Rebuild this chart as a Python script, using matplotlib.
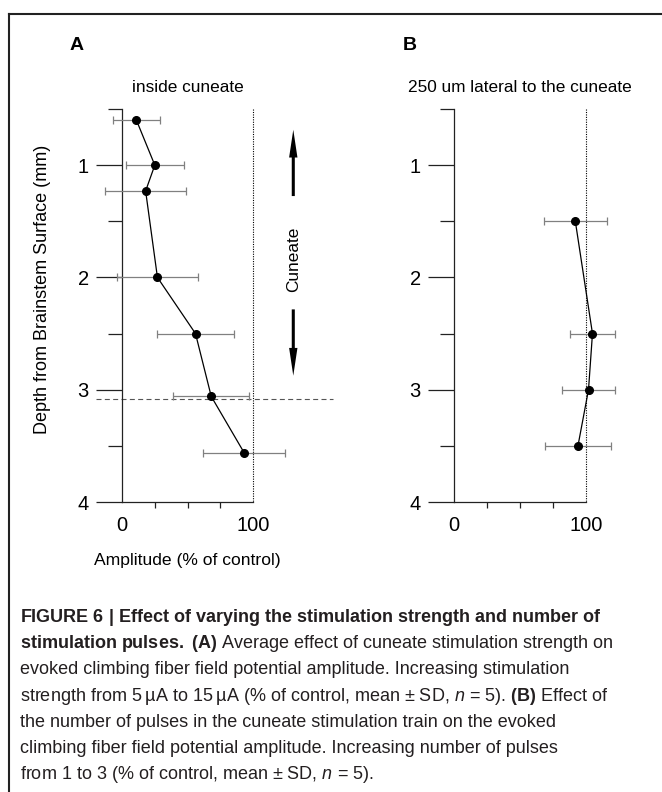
import numpy as np
import matplotlib
matplotlib.use('Agg')
import matplotlib.pyplot as plt
from matplotlib import font_manager as fm
from matplotlib.lines import Line2D
from matplotlib.patches import FancyArrowPatch

# depth (mm) vs amplitude (% of control), mean and SD
a_depth = [0.6, 1.0, 1.23, 2.0, 2.5, 3.06, 3.56]
a_amp   = [11, 25, 18, 27, 56, 68, 93]
a_sd    = [18, 22, 31, 31, 29, 29, 31]

b_depth = [1.5, 2.5, 3.0, 3.5]
b_amp   = [92, 105, 102, 94]
b_sd    = [24, 17, 20, 25]

cuneate_border = 3.08
yticks = [1, 2, 3, 4]
ymin_ticks = [0.5, 1.5, 2.5, 3.5]

caption = [
    r"$\mathbf{FIGURE\ 6\ |\ Effect\ of\ varying\ the\ stimulation\ strength\ and\ number\ of}$",
    r"$\mathbf{stimulation\ pulses.\ (A)}$ Average effect of cuneate stimulation strength on",
    "evoked climbing fiber field potential amplitude. Increasing stimulation",
    "strength from 5\u2009\u00b5A to 15\u2009\u00b5A (% of control, mean \u00b1 SD, $n$ = 5). $\\mathbf{(B)}$ Effect of",
    "the number of pulses in the cuneate stimulation train on the evoked",
    "climbing fiber field potential amplitude. Increasing number of pulses",
    "from 1 to 3 (% of control, mean \u00b1 SD, $n$ = 5).",
]

names = {f.name for f in fm.fontManager.ttflist}
narrow = 'Liberation Sans Narrow' if 'Liberation Sans Narrow' in names else 'Liberation Sans'

plt.rcParams['font.family'] = ['Liberation Sans', 'DejaVu Sans']
plt.rcParams['mathtext.fontset'] = 'custom'
plt.rcParams['mathtext.rm'] = narrow
plt.rcParams['mathtext.it'] = narrow + ':italic'
plt.rcParams['mathtext.bf'] = narrow + ':bold'

W, H = 662, 792
fig = plt.figure(figsize=(W/100, H/100), dpi=100)

def px_axes(x0, x1, ytop, ybot):
    return fig.add_axes([x0/W, 1-ybot/H, (x1-x0)/W, (ybot-ytop)/H])

axA = px_axes(122, 332, 109, 502)
axB = px_axes(454, 665, 109, 502)

for ax, dep, amp, sd, title in [(axA, a_depth, a_amp, a_sd, 'inside cuneate'),
                                (axB, b_depth, b_amp, b_sd, '250 um lateral to the cuneate')]:
    ax.set_xlim(0, 160)
    ax.set_ylim(4, 0.5)
    ax.patch.set_alpha(0)
    for s in ['top', 'right']:
        ax.spines[s].set_visible(False)
    ax.spines['left'].set_bounds(0.5, 4)
    ax.spines['bottom'].set_bounds(0, 100)
    for s in ['left', 'bottom']:
        ax.spines[s].set_linewidth(0.9)
        ax.spines[s].set_color('#222222')

    ax.set_yticks(yticks)
    ax.set_yticks(ymin_ticks, minor=True)
    ax.set_xticks([0, 100])
    ax.set_xticks([25, 50, 75], minor=True)
    ax.tick_params(axis='y', which='major', length=19, width=0.9, pad=5,
                   labelsize=14.5, color='#222222')
    ax.tick_params(axis='y', which='minor', length=10, width=0.9, color='#222222')
    ax.tick_params(axis='x', which='major', length=0, pad=10, labelsize=14.5)
    ax.tick_params(axis='x', which='minor', length=4.5, width=0.9, color='#222222')

    # control level
    ax.plot([100, 100], [0.5, 4], linestyle=(0, (1.0, 1.2)), color='black', lw=0.8)

    ax.errorbar(amp, dep, xerr=sd, fmt='none', ecolor='#808080', elinewidth=0.9,
                capsize=3, capthick=0.9, clip_on=False, zorder=3)
    ax.plot(amp, dep, '-', color='black', lw=0.9, marker='o', ms=5.5,
            mfc='black', mec='black', clip_on=False, zorder=4)

    ax.text(50, 1 + 21/393, title, transform=ax.get_xaxis_transform(),
            ha='center', va='center', fontsize=12.4)

axA.plot([-20, 161], [cuneate_border, cuneate_border], linestyle=(0, (4.5, 3)),
         color='#555555', lw=0.8, clip_on=False)
axA.text(50, -58/393, 'Amplitude (% of control)', transform=axA.get_xaxis_transform(),
         ha='center', va='center', fontsize=12.6)
fig.text(43/W, 1-289/H, 'Depth from Brainstem Surface (mm)', rotation=90,
         ha='center', va='center', fontsize=13)

# cuneate extent arrows
axA.add_patch(FancyArrowPatch((130.5, 1.30), (130.5, 0.66),
              arrowstyle='simple,head_length=2.0,head_width=0.6,tail_width=0.22',
              mutation_scale=10, color='black', lw=0, clip_on=False))
axA.add_patch(FancyArrowPatch((130.5, 2.26), (130.5, 2.90),
              arrowstyle='simple,head_length=2.0,head_width=0.6,tail_width=0.22',
              mutation_scale=10, color='black', lw=0, clip_on=False))
axA.text(130.5, 1.84, 'Cuneate', rotation=90, ha='center', va='center', fontsize=12.4)

fig.text(70/W, 1-45/H, 'A', fontsize=14, fontweight='bold', ha='left', va='center')
fig.text(403/W, 1-45/H, 'B', fontsize=14, fontweight='bold', ha='left', va='center')

# frame
fig.add_artist(Line2D([8.5/W, 1], [1-13.5/H, 1-13.5/H], transform=fig.transFigure,
                      color='#222222', lw=1.5))
fig.add_artist(Line2D([8.5/W, 8.5/W], [0, 1-13.5/H], transform=fig.transFigure,
                      color='#222222', lw=1.5))

for i, line in enumerate(caption):
    fig.text(20/W, 1-(622 + 26.2*i)/H, line, fontsize=13, family=narrow,
             color='#231f20', ha='left', va='baseline')

plt.savefig('out.png', dpi=100)
